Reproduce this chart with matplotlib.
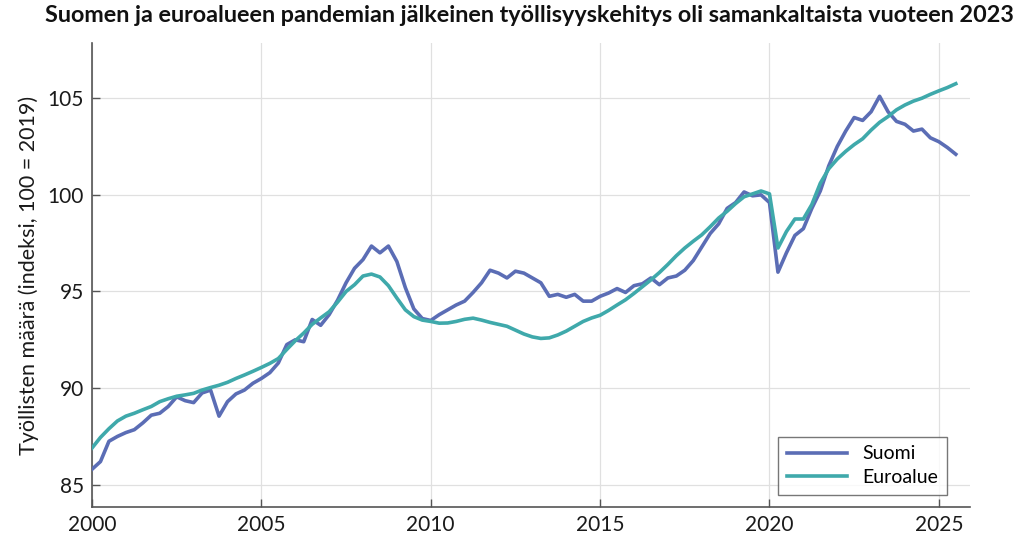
import matplotlib
matplotlib.use("Agg")
import matplotlib.pyplot as plt
import numpy as np

plt.rcParams['font.family'] = ['Lato', 'DejaVu Sans']

start_year = 2000
suomi = [85.8, 86.2, 87.25, 87.5, 87.7, 87.85, 88.2, 88.6, 88.7, 89.05,
         89.55, 89.35, 89.25, 89.75, 89.9, 88.55, 89.3, 89.7, 89.9, 90.25,
         90.5, 90.8, 91.3, 92.25, 92.5, 92.4, 93.55, 93.25, 93.8, 94.55,
         95.45, 96.2, 96.65, 97.35, 97.0, 97.35, 96.55, 95.2, 94.1, 93.6,
         93.5, 93.8, 94.05, 94.3, 94.5, 94.95, 95.45, 96.1, 95.95, 95.7,
         96.05, 95.95, 95.7, 95.45, 94.75, 94.85, 94.7, 94.85, 94.5, 94.5,
         94.75, 94.92, 95.15, 94.95, 95.3, 95.4, 95.7, 95.35, 95.7, 95.8,
         96.1, 96.6, 97.3, 98.0, 98.5, 99.3, 99.6, 100.15, 99.95, 100.0,
         99.6, 96.0, 97.0, 97.9, 98.25, 99.3, 100.2, 101.5, 102.5, 103.3,
         104.0, 103.85, 104.3, 105.1, 104.3, 103.8, 103.65, 103.3, 103.4, 102.95,
         102.75, 102.45, 102.1]
euroalue = [86.9, 87.45, 87.9, 88.3, 88.55, 88.7, 88.88, 89.05, 89.3, 89.45,
            89.58, 89.65, 89.73, 89.9, 90.03, 90.15, 90.3, 90.5, 90.68, 90.87,
            91.07, 91.28, 91.53, 92.0, 92.45, 92.85, 93.3, 93.63, 93.95, 94.45,
            95.0, 95.35, 95.8, 95.9, 95.75, 95.3, 94.66, 94.05, 93.7, 93.52,
            93.45, 93.36, 93.37, 93.45, 93.56, 93.62, 93.52, 93.4, 93.3, 93.2,
            93.0, 92.8, 92.65, 92.57, 92.6, 92.75, 92.95, 93.2, 93.45, 93.63,
            93.77, 94.02, 94.3, 94.57, 94.9, 95.25, 95.6, 95.98, 96.4, 96.85,
            97.25, 97.6, 97.93, 98.35, 98.8, 99.15, 99.55, 99.9, 100.05, 100.2,
            100.05, 97.25, 98.1, 98.75, 98.75, 99.5, 100.6, 101.35, 101.85, 102.25,
            102.6, 102.9, 103.35, 103.75, 104.05, 104.4, 104.65, 104.85, 105.0, 105.2,
            105.38, 105.55, 105.75]
series_names = ["Suomi", "Euroalue"]
x_ticks = [2000, 2005, 2010, 2015, 2020, 2025]
y_ticks = [85, 90, 95, 100, 105]
title = "Suomen ja euroalueen pandemian jälkeinen työllisyyskehitys oli samankaltaista vuoteen 2023"
ylabel = "Työllisten määrä (indeksi, 100 = 2019)"

t = start_year + np.arange(len(suomi)) / 4.0

fig = plt.figure(figsize=(10.28, 5.39), dpi=100)
ax = fig.add_axes([0.0895, 0.0594, 0.8541, 0.8606])

ax.plot(t, suomi, color="#5b6db5", lw=2.6, label=series_names[0], zorder=3)
ax.plot(t, euroalue, color="#3fa9ab", lw=2.6, label=series_names[1], zorder=3)

ax.set_xlim(2000, 2025.92)
ax.set_ylim(83.85, 107.85)
ax.set_xticks(x_ticks)
ax.set_yticks(y_ticks)
ax.grid(True, color="#e0e0e0", lw=0.9, zorder=0)
ax.set_axisbelow(True)
for s in ["top", "right"]:
    ax.spines[s].set_visible(False)
for s in ["left", "bottom"]:
    ax.spines[s].set_color("#555555")
    ax.spines[s].set_linewidth(1.2)
ax.tick_params(direction="in", length=6, width=1.0, color="#555555",
               labelsize=15, labelcolor="#1a1a1a", pad=6)

ax.set_ylabel(ylabel, fontsize=15.5, color="#1a1a1a", labelpad=6)
fig.suptitle(title, fontsize=16.8, fontweight="bold", x=0.5146, y=0.99, color="#111111")

leg = ax.legend(loc="lower right", bbox_to_anchor=(0.985, 0.005), fontsize=14,
                frameon=True, fancybox=False, edgecolor="#555555",
                handlelength=3.1, borderpad=0.45, labelspacing=0.35)
leg.get_frame().set_linewidth(1.0)

fig.savefig("out.png", dpi=100)
